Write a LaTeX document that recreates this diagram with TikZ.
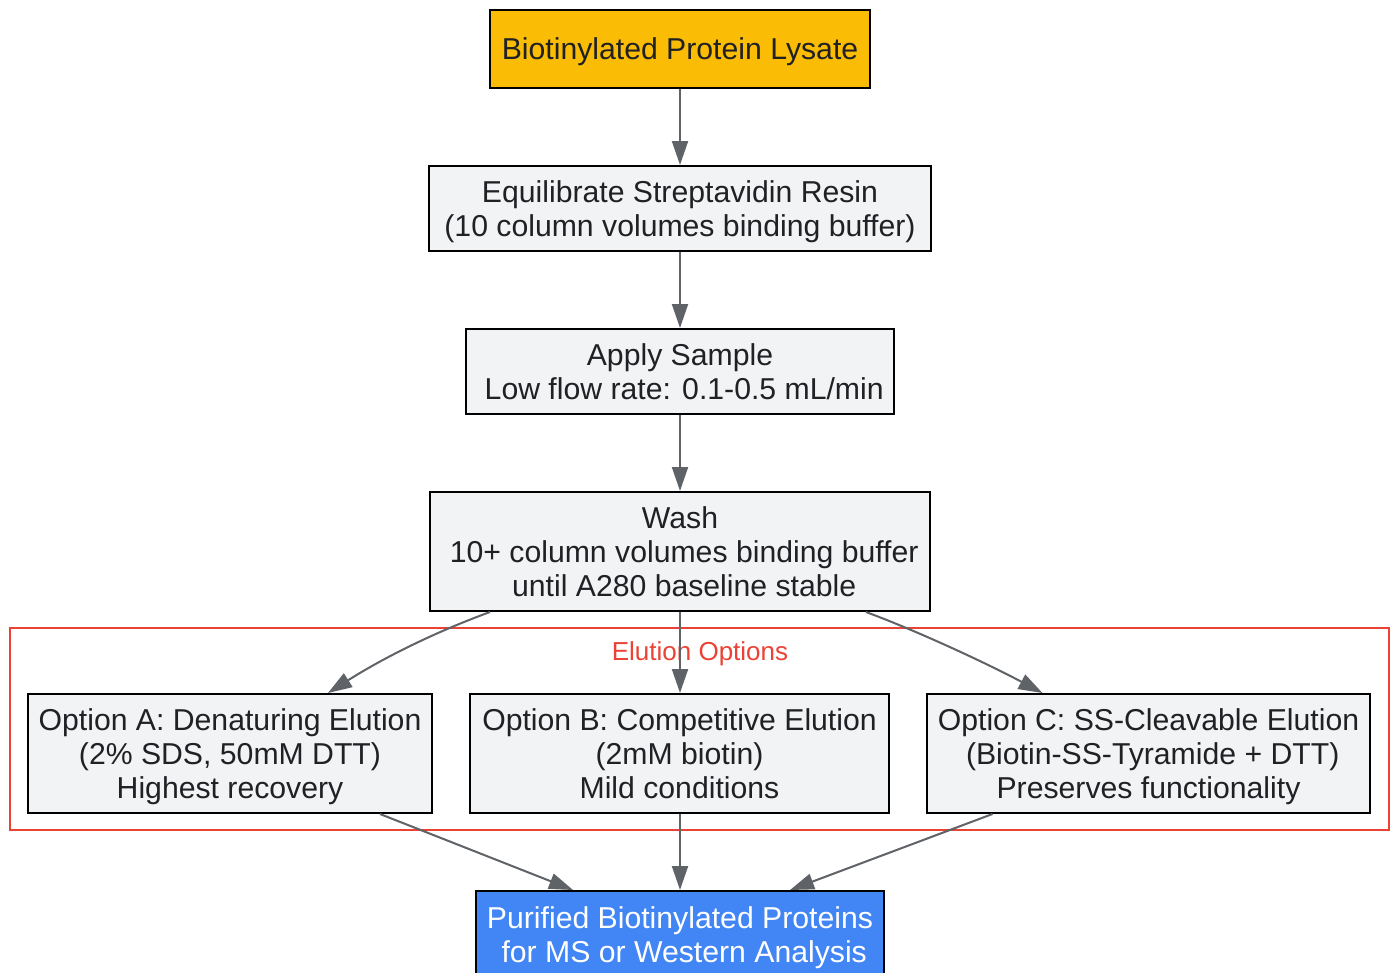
\documentclass[tikz,border=0pt]{standalone}
\usepackage{fontspec}
\setmainfont{Liberation Sans}
\usetikzlibrary{arrows.meta,calc}
\definecolor{boxfill}{HTML}{F1F3F4}
\definecolor{topfill}{HTML}{FBBC05}
\definecolor{endfill}{HTML}{4285F4}
\definecolor{edgecol}{HTML}{5F6368}
\definecolor{clusterred}{HTML}{EA4335}
\definecolor{txt}{HTML}{202124}
\tikzset{
  stepbox/.style={draw=black, line width=2pt, fill=boxfill, text=txt, align=center,
    font=\fontsize{30.2}{34}\selectfont, inner sep=0pt, anchor=center, text depth=0pt},
  conn/.style={draw=edgecol, line width=2pt, -{Triangle[length=24pt,width=16pt]}},
}
\begin{document}
\begin{tikzpicture}[x=1pt,y=-1pt]
\useasboundingbox (0,0) rectangle (1392,972);
\fill[white] (0,0) rectangle (1392,972);
% cluster
\draw[clusterred, line width=1.6pt] (10,628) rectangle (1389,830);
\node[text=clusterred, font=\fontsize{26}{30}\selectfont] (clab) at (700,654) {Elution Options};
% nodes
\node[stepbox, fill=topfill, minimum width=380pt, minimum height=78pt] (lys) at (680,49) {Biotinylated Protein Lysate};
\node[stepbox, minimum width=502pt, minimum height=85pt] (eq) at (680,208.5) {Equilibrate Streptavidin Resin\\(10 column volumes binding buffer)};
\node[stepbox, minimum width=428pt, minimum height=85pt] (app) at (680,371.5) {Apply Sample\\\ Low flow rate: 0.1-0.5 mL/min};
\node[stepbox, minimum width=500pt, minimum height=119pt] (wash) at (680,551.5) {Wash\\\ 10+ column volumes binding buffer\\\ until A280 baseline stable};
\node[stepbox, minimum width=404pt, minimum height=119pt] (oa) at (230,753.5) {Option A: Denaturing Elution\\(2\% SDS, 50mM DTT)\\Highest recovery};
\node[stepbox, minimum width=419pt, minimum height=119pt] (ob) at (679.5,753.5) {Option B: Competitive Elution\\(2mM biotin)\\Mild conditions};
\node[stepbox, minimum width=443pt, minimum height=119pt] (oc) at (1148.5,753.5) {Option C: SS-Cleavable Elution\\\ (Biotin-SS-Tyramide + DTT)\\Preserves functionality};
\node[stepbox, fill=endfill, text=white, minimum width=408pt, minimum height=88pt] (fin) at (680,935) {Purified Biotinylated Proteins\\\ for MS or Western Analysis};
% edges
\draw[conn] (lys.south) -- (eq.north);
\draw[conn] (eq.south) -- (app.north);
\draw[conn] (app.south) -- (wash.north);
\draw[conn] (wash.south) -- (ob.north -| wash.south);
\draw[conn] ([xshift=-190pt]wash.south) .. controls (430,634) and (380,660) .. ([xshift=98pt]oa.north);
\draw[conn] ([xshift=186pt]wash.south) .. controls (920,632) and (990,665) .. ([xshift=-106pt]oc.north);
\draw[conn] ([xshift=150pt]oa.south) -- ([xshift=-107pt]fin.north);
\draw[conn] (ob.south -| fin.north) -- (fin.north);
\draw[conn] ([xshift=-156pt]oc.south) -- ([xshift=110pt]fin.north);
\end{tikzpicture}
\end{document}
